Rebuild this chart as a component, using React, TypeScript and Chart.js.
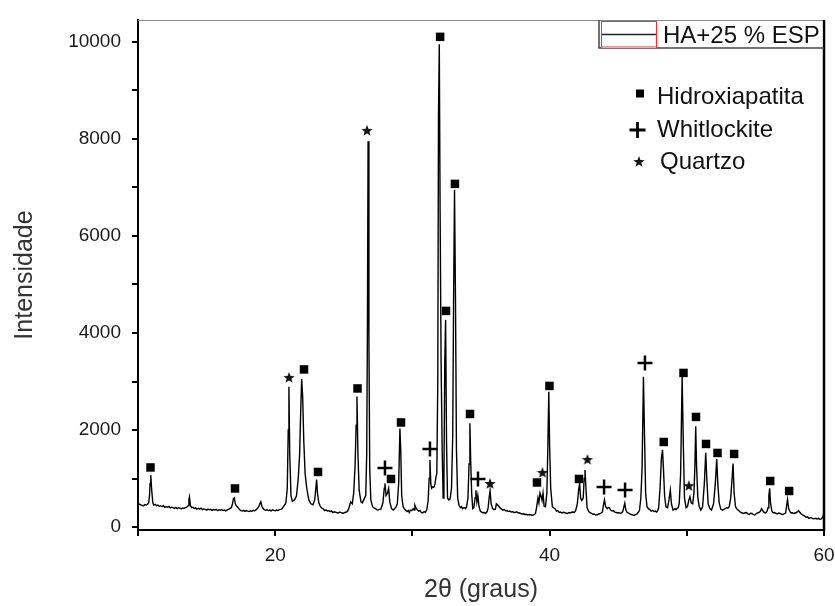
import React, { useEffect, useRef } from 'react';
import { Chart, registerables } from 'chart.js';

Chart.register(...registerables);

// 2θ (graus) positions of the diffraction profile (10 per line, aligned with intensity)
const twoTheta = [
  10.0, 10.1, 10.2, 10.3, 10.4, 10.5, 10.6, 10.7, 10.78, 10.84,
  10.88, 10.93, 11.0, 11.08, 11.15, 11.25, 11.35, 11.45, 11.55, 11.65,
  11.75, 11.85, 11.95, 12.05, 12.15, 12.25, 12.35, 12.45, 12.55, 12.65,
  12.75, 12.85, 12.95, 13.05, 13.15, 13.25, 13.35, 13.45, 13.55, 13.65,
  13.71, 13.75, 13.82, 13.9, 14.0, 14.1, 14.2, 14.3, 14.4, 14.5,
  14.6, 14.7, 14.8, 14.9, 15.0, 15.1, 15.2, 15.3, 15.4, 15.5,
  15.6, 15.7, 15.8, 15.9, 16.0, 16.1, 16.2, 16.3, 16.4, 16.5,
  16.6, 16.7, 16.8, 16.88, 16.95, 17.02, 17.1, 17.2, 17.3, 17.4,
  17.5, 17.6, 17.7, 17.8, 17.9, 18.0, 18.1, 18.2, 18.3, 18.4,
  18.5, 18.6, 18.7, 18.8, 18.88, 18.95, 19.03, 19.12, 19.2, 19.3,
  19.4, 19.5, 19.6, 19.7, 19.8, 19.9, 20.0, 20.1, 20.2, 20.3,
  20.4, 20.5, 20.6, 20.7, 20.78, 20.88, 20.95, 21.0, 21.06, 21.15,
  21.25, 21.4, 21.55, 21.68, 21.78, 21.86, 21.93, 22.0, 22.08, 22.18,
  22.3, 22.45, 22.6, 22.75, 22.88, 22.96, 23.02, 23.08, 23.18, 23.3,
  23.4, 23.5, 23.6, 23.7, 23.8, 23.9, 24.0, 24.1, 24.2, 24.3,
  24.4, 24.5, 24.6, 24.7, 24.8, 24.9, 25.0, 25.1, 25.2, 25.3,
  25.38, 25.5, 25.62, 25.72, 25.82, 25.9, 25.96, 26.03, 26.12, 26.25,
  26.35, 26.45, 26.6, 26.67, 26.72, 26.77, 26.83, 26.89, 26.97, 27.1,
  27.2, 27.3, 27.4, 27.5, 27.6, 27.7, 27.85, 27.95, 28.0, 28.08,
  28.18, 28.27, 28.35, 28.48, 28.6, 28.7, 28.8, 28.9, 29.0, 29.09,
  29.15, 29.22, 29.32, 29.4, 29.5, 29.6, 29.7, 29.78, 29.85, 29.95,
  30.05, 30.12, 30.18, 30.25, 30.35, 30.45, 30.55, 30.65, 30.75, 30.85,
  30.95, 31.05, 31.15, 31.22, 31.28, 31.34, 31.4, 31.48, 31.56, 31.64,
  31.72, 31.78, 31.85, 31.9, 31.96, 32.02, 32.09, 32.17, 32.24, 32.3,
  32.36, 32.42, 32.49, 32.56, 32.65, 32.75, 32.85, 32.94, 33.0, 33.07,
  33.14, 33.21, 33.3, 33.4, 33.5, 33.58, 33.65, 33.72, 33.8, 33.88,
  33.95, 34.05, 34.13, 34.19, 34.25, 34.32, 34.4, 34.48, 34.57, 34.63,
  34.7, 34.77, 34.85, 34.95, 35.05, 35.15, 35.25, 35.35, 35.45, 35.52,
  35.6, 35.66, 35.74, 35.85, 35.95, 36.05, 36.12, 36.2, 36.3, 36.4,
  36.5, 36.6, 36.7, 36.8, 36.9, 37.0, 37.1, 37.2, 37.3, 37.4,
  37.5, 37.6, 37.7, 37.8, 37.9, 38.0, 38.1, 38.2, 38.3, 38.4,
  38.5, 38.6, 38.7, 38.8, 38.9, 38.97, 39.05, 39.15, 39.22, 39.3,
  39.37, 39.45, 39.52, 39.6, 39.7, 39.8, 39.87, 39.94, 40.0, 40.08,
  40.2, 40.3, 40.4, 40.5, 40.6, 40.7, 40.8, 40.9, 41.0, 41.1,
  41.2, 41.3, 41.4, 41.5, 41.6, 41.7, 41.8, 41.9, 42.02, 42.12,
  42.19, 42.26, 42.35, 42.45, 42.52, 42.58, 42.65, 42.73, 42.85, 42.95,
  43.05, 43.15, 43.25, 43.35, 43.45, 43.55, 43.65, 43.75, 43.85, 43.92,
  44.0, 44.08, 44.2, 44.28, 44.35, 44.45, 44.55, 44.65, 44.75, 44.85,
  44.95, 45.05, 45.15, 45.25, 45.33, 45.4, 45.48, 45.56, 45.65, 45.75,
  45.85, 45.95, 46.05, 46.15, 46.25, 46.35, 46.45, 46.55, 46.65, 46.74,
  46.84, 46.92, 47.0, 47.1, 47.2, 47.3, 47.4, 47.5, 47.6, 47.7,
  47.8, 47.88, 47.95, 48.05, 48.15, 48.23, 48.3, 48.38, 48.48, 48.6,
  48.7, 48.8, 48.88, 49.0, 49.08, 49.15, 49.22, 49.3, 49.38, 49.45,
  49.55, 49.66, 49.74, 49.83, 49.95, 50.05, 50.15, 50.23, 50.32, 50.43,
  50.52, 50.59, 50.65, 50.71, 50.8, 50.9, 51.02, 51.15, 51.28, 51.38,
  51.46, 51.56, 51.68, 51.8, 51.95, 52.08, 52.18, 52.26, 52.36, 52.48,
  52.6, 52.7, 52.8, 52.9, 53.0, 53.1, 53.2, 53.3, 53.37, 53.45,
  53.55, 53.65, 53.75, 53.85, 53.95, 54.05, 54.15, 54.25, 54.35, 54.45,
  54.55, 54.65, 54.75, 54.85, 54.95, 55.05, 55.15, 55.25, 55.35, 55.45,
  55.55, 55.65, 55.75, 55.85, 55.92, 55.98, 56.04, 56.1, 56.2, 56.3,
  56.4, 56.5, 56.6, 56.7, 56.8, 56.9, 57.0, 57.1, 57.2, 57.28,
  57.34, 57.42, 57.52, 57.6, 57.7, 57.8, 57.9, 58.0, 58.08, 58.15,
  58.22, 58.3, 58.4, 58.5, 58.6, 58.7, 58.8, 58.9, 59.0, 59.1,
  59.2, 59.3, 59.4, 59.5, 59.6, 59.7, 59.8, 59.9, 60.0,
];

// Intensidade at each 2θ position
const intensity = [
  450, 475, 460, 445, 440, 465, 455, 470, 500, 650,
  900, 1070, 760, 500, 455, 470, 440, 455, 425, 440,
  420, 445, 405, 420, 410, 425, 395, 410, 400, 385,
  405, 380, 400, 390, 375, 395, 385, 400, 410, 440,
  560, 620, 450, 400, 410, 385, 395, 370, 385, 375,
  390, 360, 375, 365, 350, 370, 355, 365, 345, 360,
  350, 365, 340, 355, 345, 360, 340, 350, 335, 355,
  365, 385, 400, 470, 580, 600, 470, 430, 400, 360,
  340, 330, 345, 325, 340, 330, 320, 335, 325, 345,
  335, 355, 380, 420, 480, 520, 430, 380, 360, 345,
  355, 340, 350, 335, 355, 345, 335, 350, 340, 360,
  365, 380, 420, 460, 500, 800, 2000, 2890, 1500, 650,
  530, 560, 640, 1000, 1500, 2400, 3050, 2700, 1800, 1100,
  800, 560, 480, 460, 560, 800, 980, 700, 500, 420,
  390, 375, 340, 355, 330, 340, 320, 335, 300, 315,
  310, 295, 290, 310, 300, 285, 290, 305, 310, 340,
  400, 520, 480, 700, 1250, 2100, 2690, 1500, 760, 520,
  500, 560, 650, 1500, 4000, 7950, 3900, 1200, 560, 420,
  395, 380, 360, 350, 365, 370, 500, 800, 900, 650,
  700, 800, 520, 380, 350, 380, 410, 480, 900, 2030,
  1600, 650, 420, 380, 350, 320, 340, 300, 350, 340,
  380, 350, 450, 400, 360, 330, 345, 300, 290, 320,
  305, 360, 550, 1000, 1380, 900, 800, 830, 820, 880,
  1040, 1100, 3000, 8430, 9950, 6470, 3450, 1600, 600, 1100,
  3400, 4270, 1700, 600, 560, 580, 800, 1900, 4600, 6950,
  4700, 1600, 600, 450, 400, 420, 380, 395, 400, 380,
  420, 600, 1300, 2140, 1350, 700, 380, 400, 600, 760,
  520, 650, 430, 330, 310, 295, 300, 285, 320, 400,
  620, 750, 480, 380, 360, 370, 480, 460, 430, 390,
  370, 350, 360, 335, 340, 320, 330, 310, 320, 300,
  305, 315, 295, 290, 280, 270, 275, 260, 265, 250,
  260, 255, 245, 250, 260, 280, 400, 600, 500, 700,
  640, 550, 700, 430, 420, 700, 1600, 2790, 1700, 800,
  420, 395, 380, 330, 340, 300, 310, 290, 305, 300,
  285, 280, 300, 290, 305, 310, 300, 340, 480, 780,
  900, 600, 550, 600, 1000, 1175, 800, 400, 320, 300,
  285, 265, 270, 250, 255, 265, 275, 290, 310, 450,
  560, 420, 380, 405, 400, 350, 330, 340, 310, 300,
  290, 300, 280, 295, 320, 400, 490, 350, 300, 290,
  270, 260, 250, 240, 255, 265, 300, 340, 600, 1200,
  3100, 1850, 700, 420, 380, 360, 330, 345, 320, 330,
  310, 340, 400, 800, 1420, 1590, 1200, 650, 420, 400,
  560, 760, 480, 350, 365, 380, 360, 390, 400, 500,
  1100, 3100, 1800, 600, 400, 420, 560, 625, 500, 480,
  700, 1250, 2080, 1280, 620, 430, 350, 420, 900, 1530,
  980, 480, 380, 350, 480, 900, 1400, 900, 500, 370,
  350, 365, 380, 400, 390, 430, 600, 1000, 1310, 700,
  420, 370, 350, 320, 300, 290, 280, 295, 300, 270,
  260, 285, 280, 255, 250, 275, 290, 300, 320, 380,
  330, 300, 290, 330, 400, 650, 800, 500, 330, 290,
  300, 285, 270, 290, 280, 265, 260, 275, 290, 450,
  570, 380, 320, 290, 295, 280, 290, 300, 320, 340,
  310, 280, 260, 240, 225, 200, 210, 180, 195, 190,
  170, 175, 180, 165, 180, 160, 170, 200, 290,
];

// Phase markers (position and height of each symbol)
const hidroxiapatitaX = [10.91, 17.07, 22.1, 23.12, 26.0, 28.44, 29.17, 32.02, 32.45, 33.1, 34.2, 39.08, 39.99, 42.14, 48.32, 49.76, 50.67, 51.4, 52.24, 53.45, 56.08, 57.46];
const hidroxiapatitaY = [1229, 796, 3249, 1136, 2857, 992, 2156, 10103, 4455, 7073, 2331, 919, 2909, 992, 1754, 3177, 2270, 1713, 1528, 1507, 950, 744];
const whitlockiteX = [28.0, 31.28, 34.78, 43.97, 45.5, 46.95];
const whitlockiteY = [1218, 1610, 992, 827, 765, 3383];
const quartzoX = [21.01, 26.69, 35.66, 39.48, 42.76, 50.15];
const quartzoY = [3074, 8166, 889, 1116, 1384, 843];

const xTickValues = [10, 20, 30, 40, 50, 60];
const xTickLabels = [20, 40, 60];
const yTickValues = [0, 1000, 2000, 3000, 4000, 5000, 6000, 7000, 8000, 9000, 10000];
const yTickLabels = [0, 2000, 4000, 6000, 8000, 10000];
const seriesName = 'HA+25 % ESP';
const phaseNames = ['Hidroxiapatita', 'Whitlockite', 'Quartzo'];
const xTitle = '2θ (graus)';
const yTitle = 'Intensidade';

const FONT = '"Liberation Sans", Arial, sans-serif';

function pathStar(g: CanvasRenderingContext2D, cx: number, cy: number, ro: number, ri: number) {
  g.beginPath();
  for (let i = 0; i < 10; i++) {
    const r = i % 2 === 0 ? ro : ri;
    const a = -Math.PI / 2 + (i * Math.PI) / 5;
    const px = cx + r * Math.cos(a);
    const py = cy + r * Math.sin(a);
    if (i === 0) g.moveTo(px, py);
    else g.lineTo(px, py);
  }
  g.closePath();
}

function makeStarCanvas(size: number) {
  const c = document.createElement('canvas');
  c.width = size;
  c.height = size;
  const g = c.getContext('2d')!;
  g.fillStyle = '#111';
  pathStar(g, size / 2, size / 2, size / 2, size * 0.21);
  g.fill();
  return c;
}

const overlayPlugin = {
  id: 'overlayPlugin',
  afterDraw(chart: any) {
    const { ctx, chartArea: a } = chart;
    ctx.save();
    // top frame (thin) and right frame (thick)
    ctx.strokeStyle = '#8a8a8a';
    ctx.lineWidth = 1;
    ctx.beginPath();
    ctx.moveTo(a.left, a.top + 0.5);
    ctx.lineTo(a.right, a.top + 0.5);
    ctx.stroke();
    ctx.strokeStyle = '#000';
    ctx.lineWidth = 2.5;
    ctx.beginPath();
    ctx.moveTo(a.right, a.top);
    ctx.lineTo(a.right, a.bottom + 1);
    ctx.stroke();

    // series legend box (top right)
    const bx = a.right - 225;
    const by = a.top;
    const bh = 28;
    ctx.fillStyle = '#fff';
    ctx.fillRect(bx, by + 1, a.right - bx - 1.5, bh - 1);
    ctx.strokeStyle = '#444';
    ctx.lineWidth = 1.5;
    ctx.beginPath();
    ctx.moveTo(bx, by);
    ctx.lineTo(bx, by + bh);
    ctx.lineTo(a.right, by + bh);
    ctx.stroke();
    ctx.strokeStyle = '#ff2a2a';
    ctx.lineWidth = 1;
    ctx.strokeRect(bx + 2.5, by + 1.5, 55, bh - 2.5);
    ctx.strokeStyle = '#4cf0f0';
    ctx.beginPath();
    ctx.moveTo(bx + 3, by + bh - 0.5);
    ctx.lineTo(bx + 57, by + bh - 0.5);
    ctx.stroke();
    ctx.strokeStyle = '#222';
    ctx.lineWidth = 1.5;
    ctx.beginPath();
    ctx.moveTo(bx + 3, by + 14.5);
    ctx.lineTo(bx + 57, by + 14.5);
    ctx.stroke();
    ctx.fillStyle = '#111';
    ctx.font = `24px ${FONT}`;
    ctx.textBaseline = 'alphabetic';
    ctx.textAlign = 'left';
    ctx.fillText(seriesName, bx + 64, by + 22.5);

    // phase legend
    const lx = a.right;
    const ly = a.top;
    ctx.fillStyle = '#000';
    ctx.fillRect(lx - 188, ly + 69.5, 8, 8);
    ctx.strokeStyle = '#000';
    ctx.lineWidth = 2.8;
    ctx.beginPath();
    ctx.moveTo(lx - 194.5, ly + 110);
    ctx.lineTo(lx - 178.5, ly + 110);
    ctx.moveTo(lx - 186.5, ly + 102);
    ctx.lineTo(lx - 186.5, ly + 118);
    ctx.stroke();
    pathStar(ctx, lx - 185, ly + 142, 6, 2.4);
    ctx.fillStyle = '#111';
    ctx.fill();

    ctx.fillStyle = '#111';
    ctx.font = `24px ${FONT}`;
    ctx.fillText(phaseNames[0], lx - 167, ly + 84);
    ctx.fillText(phaseNames[1], lx - 167, ly + 117);
    ctx.fillText(phaseNames[2], lx - 164, ly + 149);
    ctx.restore();
  },
};

export default function App() {
  const ref = useRef<HTMLCanvasElement>(null);

  useEffect(() => {
    const canvas = ref.current;
    if (!canvas) return;
    const starImg = makeStarCanvas(12);
    const pattern = twoTheta.map((x, i) => ({ x, y: intensity[i] }));
    const ha = hidroxiapatitaX.map((x, i) => ({ x, y: hidroxiapatitaY[i] }));
    const wh = whitlockiteX.map((x, i) => ({ x, y: whitlockiteY[i] }));
    const qz = quartzoX.map((x, i) => ({ x, y: quartzoY[i] }));

    const tickFont = { family: FONT, size: 19 };
    const titleFont = { family: FONT, size: 25 };
    const gridOpts = {
      display: true,
      drawOnChartArea: false,
      drawTicks: true,
      tickLength: 6,
      color: '#000',
      lineWidth: 2,
    };

    const chart = new Chart(canvas, {
      type: 'line',
      data: {
        datasets: [
          {
            label: seriesName,
            data: pattern,
            borderColor: '#000',
            borderWidth: 1.4,
            pointRadius: 0,
            tension: 0,
            fill: false,
          },
          {
            type: 'scatter',
            label: phaseNames[0],
            data: ha,
            pointStyle: 'rect',
            pointRadius: 6,
            backgroundColor: '#000',
            borderColor: '#000',
            borderWidth: 0,
          },
          {
            type: 'scatter',
            label: phaseNames[1],
            data: wh,
            pointStyle: 'cross',
            pointRadius: 7.5,
            borderColor: '#000',
            borderWidth: 2.5,
          },
          {
            type: 'scatter',
            label: phaseNames[2],
            data: qz,
            pointStyle: starImg,
            pointRadius: 6,
          },
        ] as any,
      },
      options: {
        responsive: false,
        animation: false,
        devicePixelRatio: 1,
        layout: { padding: { top: 20, right: 11, left: 0, bottom: 0 } },
        plugins: { legend: { display: false }, tooltip: { enabled: false } },
        scales: {
          x: {
            type: 'linear',
            min: 10,
            max: 60,
            afterBuildTicks: (s: any) => {
              s.ticks = xTickValues.map((v) => ({ value: v }));
            },
            afterFit: (s: any) => {
              s.height = 76;
              s.paddingLeft = 0;
              s.paddingRight = 0;
            },
            ticks: {
              autoSkip: false,
              maxRotation: 0,
              padding: 8,
              color: '#1a1a1a',
              font: tickFont,
              callback: (v: any) => (xTickLabels.includes(Number(v)) ? String(v) : ''),
            },
            grid: gridOpts,
            border: { display: true, color: '#000', width: 2 },
            title: {
              display: true,
              text: xTitle,
              color: '#333',
              font: titleFont,
              padding: { top: 0, bottom: 1 },
            },
          },
          y: {
            type: 'linear',
            min: -60,
            max: 10450,
            afterBuildTicks: (s: any) => {
              s.ticks = yTickValues.map((v) => ({ value: v }));
            },
            afterFit: (s: any) => {
              s.width = 138;
              s.paddingTop = 0;
              s.paddingBottom = 0;
            },
            ticks: {
              autoSkip: false,
              padding: 11,
              color: '#1a1a1a',
              font: tickFont,
              callback: (v: any) => (yTickLabels.includes(Number(v)) ? String(v) : ''),
            },
            grid: gridOpts,
            border: { display: true, color: '#000', width: 2 },
            title: {
              display: true,
              text: yTitle,
              color: '#333',
              font: titleFont,
              padding: { top: 10, bottom: 0 },
            },
          },
        },
      } as any,
      plugins: [overlayPlugin],
    });

    return () => chart.destroy();
  }, []);

  return (
    <div style={{ position: 'absolute', left: 0, top: 0, width: 835, height: 606, background: '#fff' }}>
      <canvas ref={ref} width={835} height={606} style={{ display: 'block', width: 835, height: 606 }} />
    </div>
  );
}
